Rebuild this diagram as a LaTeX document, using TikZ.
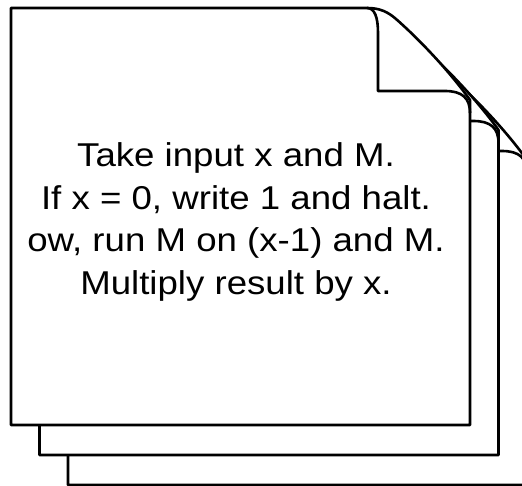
\documentclass[tikz,border=0pt]{standalone}
\usepackage{fontspec}
\setmainfont{Liberation Sans}
\begin{document}
\begin{tikzpicture}[x=1pt, y=-1pt,
    page/.style={draw, line width=2.6pt, fill=white, line join=round},
    fold/.style={draw, line width=2.6pt, line join=round}]
\useasboundingbox (0,0) rectangle (522,486);
% three sheets, back to front
\foreach \dx/\dy in {57/60, 28.5/30, 0/0} {
  \begin{scope}[shift={(\dx,\dy)}]
    \path[page] (11,425) -- (11,8) -- (367,8) .. controls (380,8) and (388,12) .. (396,19) .. controls (420,40) and (450,72) .. (470,100) -- (470,425) -- cycle;
    \path[fold] (367,8) .. controls (375,8) and (378,18) .. (378,33) -- (378,91) -- (445,91) .. controls (462,91) and (470,98) .. (470,113);
  \end{scope}
}
% program text on the front sheet
\begin{scope}[shift={(236,222)}, xscale=1.11]
  \node[font=\fontsize{33}{42.5}\selectfont, align=center, transform shape] (prog) at (0,0)
    {Take input x and M.\\If x = 0, write 1 and halt.\\ow, run M on (x-1) and M.\\Multiply result by x.};
\end{scope}
\end{tikzpicture}
\end{document}
